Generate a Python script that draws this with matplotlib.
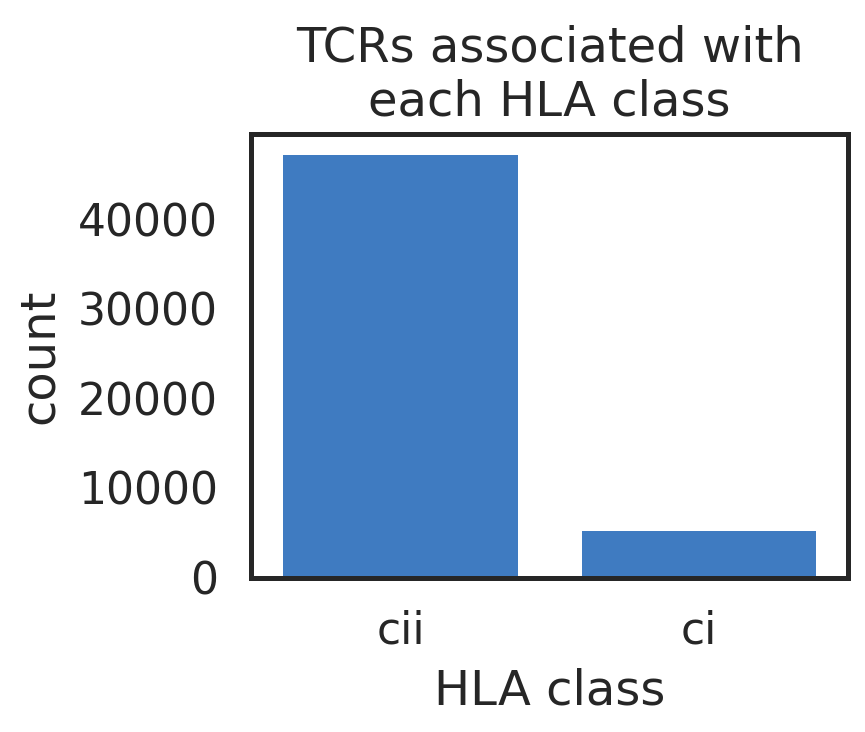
import numpy as np
import matplotlib
matplotlib.use('Agg')
import matplotlib.pyplot as plt
import seaborn as sns

# counts per HLA class
hla_class = ['cii', 'ci']
counts = [47130, 5200]
bar_color = '#3f7bc1'

sns.set_theme(style='white', context='talk')
plt.rcParams['font.family'] = ['DejaVu Sans']

dpi = 192
fig = plt.figure(figsize=(865 / dpi, 732 / dpi), dpi=dpi)
ax = fig.add_axes([0.2905, 0.211, 0.690, 0.6055])

x = np.arange(len(hla_class))
ax.bar(x, counts, width=0.785, color=bar_color, linewidth=0)
ax.set_xticks(x)
ax.set_xticklabels(hla_class)
ax.set_xlim(-0.5, len(hla_class) - 0.5)
ax.set_yticks([0, 10000, 20000, 30000, 40000])
ax.tick_params(axis='x', pad=3.0)
ax.set_xlabel('HLA class', labelpad=5.5)
ax.set_ylabel('count', labelpad=5.5)
ax.set_title('TCRs associated with\neach HLA class', pad=7)

fig.savefig('out.png', dpi=dpi)
